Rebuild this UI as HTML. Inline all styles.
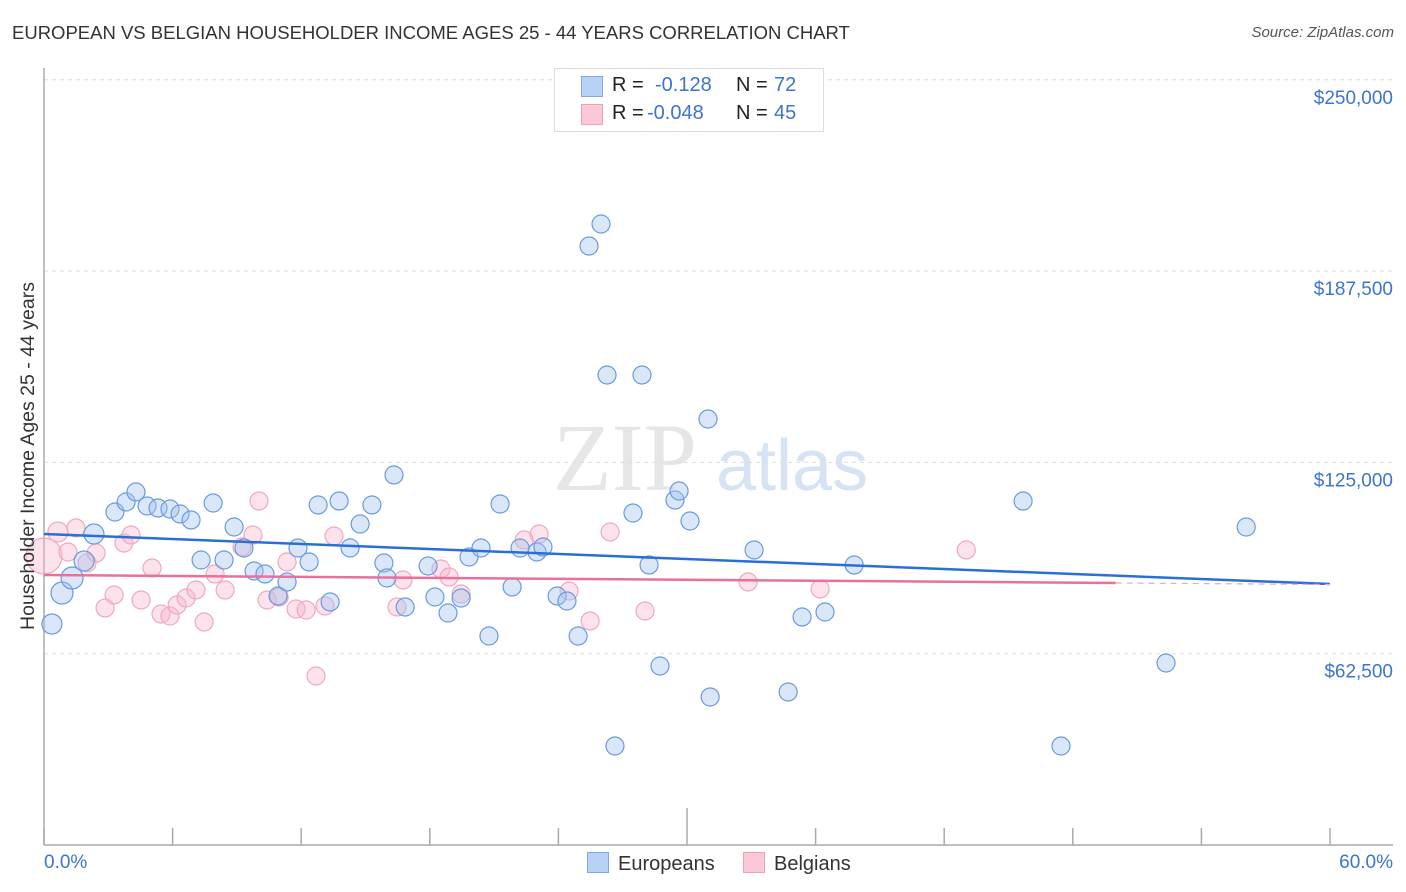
<!DOCTYPE html>
<html><head><meta charset="utf-8"><style>
body{margin:0;background:#fff;font-family:"Liberation Sans",sans-serif;}
#wrap{position:relative;width:1406px;height:892px;overflow:hidden;}
.t{position:absolute;white-space:nowrap;}
</style></head><body>
<div id="wrap">
<div class="t" style="left:12px;top:22px;font-size:18.5px;color:#333;">EUROPEAN VS BELGIAN HOUSEHOLDER INCOME AGES 25 - 44 YEARS CORRELATION CHART</div>
<div class="t" style="right:12px;top:24px;font-size:15px;color:#555;font-style:italic;">Source: ZipAtlas.com</div>
<svg id="svg" width="1406" height="892" style="position:absolute;left:0;top:0"></svg>
</div>
<script>
const blueX=[0.37,0.84,1.31,1.87,2.33,3.31,3.83,4.29,4.81,5.32,5.88,6.35,6.86,7.33,7.89,8.4,8.87,9.33,9.8,10.31,10.92,11.34,11.85,12.37,12.79,13.35,13.77,14.28,14.75,15.3,15.86,16.33,16.0,16.85,17.92,18.24,18.85,19.46,19.83,20.39,20.76,21.28,21.84,22.21,23.0,23.28,23.94,24.4,24.92,25.43,25.99,26.27,26.64,27.48,27.9,28.23,28.74,29.44,29.63,30.14,30.98,31.08,33.13,34.72,35.37,36.44,37.8,45.68,47.45,52.35,56.09];
const blueY=[72200,82330,87230,92780,101600,108790,112060,115330,110750,110100,109770,108140,106180,93110,111730,93110,103890,97030,89520,88540,81350,85920,97030,92460,111080,79390,112380,97030,104870,111080,92130,120880,87230,77750,91150,81020,75790,80690,94090,97030,68280,111400,84290,97030,95720,97360,81350,79710,68280,195690,202880,153550,32340,108460,153550,91480,58480,112710,115650,105850,139170,48350,96380,49990,74490,76120,91480,112380,32340,59460,103890];
const blueR=[10,11,11,10,10,9,9,9,9,9,9,9,9,9,9,9,9,9,9,9,9,9,9,9,9,9,9,9,9,9,9,9,9,9,9,9,9,9,9,9,9,9,9,9,9,9,9,9,9,9,9,9,9,9,9,9,9,9,9,9,9,9,9,9,9,9,9,9,9,9,9];
const pinkX=[0,0.65,1.49,1.12,2.43,2.01,2.85,3.27,3.73,4.06,4.53,5.04,5.46,5.88,6.21,6.63,7.09,7.47,7.98,8.45,9.24,9.75,10.03,10.41,10.97,11.34,11.76,12.23,12.69,13.11,13.53,16.47,16.75,18.52,18.9,19.46,22.4,23.1,24.5,25.48,26.41,28.04,32.85,36.21,43.03];
const pinkY=[94420,102260,103560,95720,95400,92130,77430,81680,98660,101280,80040,90500,75470,74810,78410,80690,83310,72850,88540,83310,97360,101280,112380,80040,81020,92460,77100,76770,55210,78080,100950,77750,86580,90170,87560,82000,99640,101600,82980,73180,102260,76450,85920,83640,96380];
const pinkR=[18,10,9,9,9,9,9,9,9,9,9,9,9,9,9,9,9,9,9,9,9,9,9,9,9,9,9,9,9,9,9,9,9,9,9,9,9,9,9,9,9,9,9,9,9];
const yTicks=[62500,125000,187500,250000];
const yTickLabels=["$62,500","$125,000","$187,500","$250,000"];
const blueTrend=[[0,101600],[60,85270]];
const pinkTrend=[[0,88210],[50,85600]];
const pinkTrendExt=[[50,85600],[60,85100]];
const sx=v=>44+v/60*1286;
const sy=v=>845-v/326.7;
const svg=document.getElementById('svg');
const NS='http://www.w3.org/2000/svg';
function mk(tag,attrs){const e=document.createElementNS(NS,tag);for(const k in attrs)e.setAttribute(k,attrs[k]);svg.appendChild(e);return e;}
let w=mk('text',{x:553,y:490,'font-size':96,'font-family':'Liberation Serif,serif',fill:'#e6e6e6'});w.textContent='ZIP';


let w2=mk('text',{x:716,y:490,'font-size':72,'font-family':'Liberation Sans,sans-serif',fill:'#d5e3f5'});w2.textContent='atlas';


yTicks.forEach((t,i)=>{
 const g=mk('line',{x1:44,x2:1393,y1:sy(t),y2:sy(t),stroke:'#ddd','stroke-dasharray':'4,4'});
 
 
 const l=mk('text',{x:1393,y:sy(t)+24,'text-anchor':'end','font-size':19,fill:'#3c74d0','font-family':'Liberation Sans,sans-serif'});
 l.textContent=yTickLabels[i];
 
 
});
let ax=mk('line',{x1:44,x2:44,y1:68,y2:845,stroke:'#aaa','stroke-width':1.5});


let bx=mk('line',{x1:44,x2:1393,y1:845,y2:845,stroke:'#aaa','stroke-width':1.5});


for(let i=0;i<=10;i++){
 const tk=mk('line',{x1:sx(i*6),x2:sx(i*6),y1:i==5?808:828,y2:845,stroke:'#aaa','stroke-width':1.5});
 
 
}
function dots(X,Y,R,fill,stroke,name){
 X.forEach((x,i)=>{
  const c=mk('circle',{cx:sx(x),cy:sy(Y[i]),r:R[i],fill:fill,stroke:stroke,'stroke-width':1.2});
  
  
 });
}
dots(pinkX,pinkY,pinkR,'rgba(248,182,202,0.4)','#f0a8c0','belgian-point');
dots(blueX,blueY,blueR,'rgba(160,195,240,0.4)','#6a9ae0','european-point');
function tl(p,color,name,dash){
 const l=mk('line',{x1:sx(p[0][0]),y1:sy(p[0][1]),x2:sx(p[1][0]),y2:sy(p[1][1]),stroke:color,'stroke-width':dash?1.2:2.5});
 if(dash)l.setAttribute('stroke-dasharray','6,5');
 
 
}
tl(blueTrend,'#2a6fd6','european-trendline');
tl(pinkTrend,'#e8709a','belgian-trendline');
tl(pinkTrendExt,'#e8a8be','belgian-trendline-extension',true);
let yt=mk('text',{x:0,y:0,transform:'translate(34,456) rotate(-90)','text-anchor':'middle','font-size':19.5,fill:'#333','font-family':'Liberation Sans,sans-serif'});
yt.textContent='Householder Income Ages 25 - 44 years';


</script>
<div class="t" style="left:44px;top:852px;font-size:19px;color:#3c74d0;">0.0%</div>
<div class="t" style="right:13px;top:852px;font-size:19px;color:#3c74d0;">60.0%</div>
<div style="position:absolute;left:554px;top:68px;width:268px;height:62px;border:1px solid #ddd;background:#fff;font-size:20px;">
 <div style="position:absolute;left:26px;top:7px;width:20px;height:19px;background:#b8d2f5;border:1px solid #7fa8e6;"></div>
 <div class="t" style="left:57px;top:5px;color:#222;">R =</div>
 <div class="t" style="left:100px;top:5px;color:#3c74d0;">-0.128</div>
 <div class="t" style="left:181px;top:5px;color:#222;">N =</div>
 <div class="t" style="left:219px;top:5px;color:#3c74d0;">72</div>
 <div style="position:absolute;left:26px;top:35px;width:20px;height:19px;background:#fbc8d6;border:1px solid #f0a0ba;"></div>
 <div class="t" style="left:57px;top:33px;color:#222;">R =</div>
 <div class="t" style="left:92px;top:33px;color:#3c74d0;">-0.048</div>
 <div class="t" style="left:181px;top:33px;color:#222;">N =</div>
 <div class="t" style="left:219px;top:33px;color:#3c74d0;">45</div>
</div>
<div style="position:absolute;left:587px;top:852px;font-size:20px;color:#333;">
 <span style="display:inline-block;width:20px;height:19px;background:#b8d2f5;border:1px solid #7fa8e6;vertical-align:-3px;margin-right:9px;"></span>Europeans</div>
<div style="position:absolute;left:743px;top:852px;font-size:20px;color:#333;">
 <span style="display:inline-block;width:20px;height:19px;background:#fbc8d6;border:1px solid #f0a0ba;vertical-align:-3px;margin-right:9px;"></span>Belgians</div>
</body></html>
